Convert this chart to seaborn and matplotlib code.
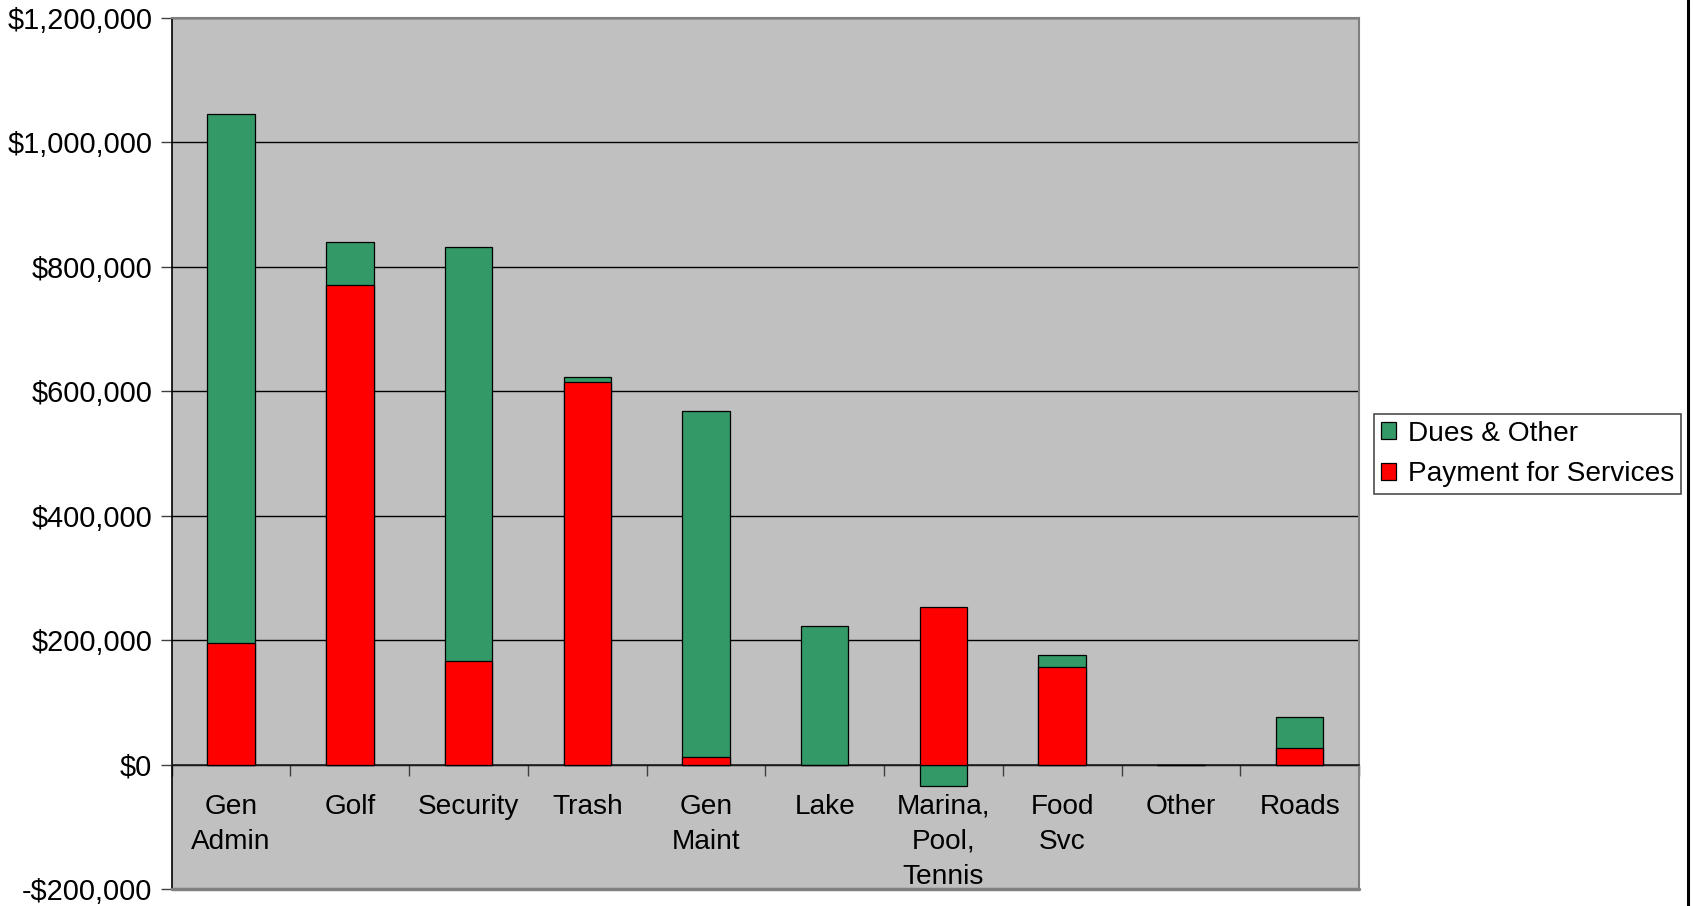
import numpy as np
import pandas as pd
import matplotlib
matplotlib.use("Agg")
import matplotlib.pyplot as plt
import matplotlib.ticker as mticker
from matplotlib.lines import Line2D
from matplotlib.patches import Patch
import seaborn as sns

categories = ["Gen\nAdmin", "Golf", "Security", "Trash", "Gen\nMaint", "Lake",
              "Marina,\nPool,\nTennis", "Food\nSvc", "Other", "Roads"]
dues_other = [850000, 70000, 664000, 7000, 556000, 222000, -35000, 20500, 0, 49000]
payment_services = [196000, 770000, 167000, 615000, 12000, 0, 253000, 156000, 0, 27000]
y_ticks = [-200000, 0, 200000, 400000, 600000, 800000, 1000000, 1200000]
series_names = ["Dues & Other", "Payment for Services"]

GREEN = "#339966"
RED = "#FF0000"
BG = "#C0C0C0"
FS = 20.2

sns.set_style("white")
plt.rcParams["font.family"] = ["Liberation Sans", "DejaVu Sans"]
plt.rcParams["text.color"] = "black"
plt.rcParams["xtick.labelcolor"] = "black"
plt.rcParams["ytick.labelcolor"] = "black"

df = pd.DataFrame({"cat": categories, "dues": dues_other, "pay": payment_services})
# Excel-style stacking: positive dues stack on top of payments, negatives go below zero
df["dues_top"] = np.where(df["dues"] >= 0, df["dues"] + df["pay"], df["dues"])

fig = plt.figure(figsize=(16.93, 9.06), dpi=100)
ax = fig.add_axes([171.7 / 1693, 1 - 889 / 906, (1359 - 171.7) / 1693, (889 - 17.7) / 906])
ax.set_facecolor(BG)

sns.barplot(data=df, x="cat", y="dues_top", order=categories, color=GREEN,
            edgecolor="black", linewidth=0.9, width=0.40, saturation=1, ax=ax, zorder=3)
sns.barplot(data=df, x="cat", y="pay", order=categories, color=RED,
            edgecolor="black", linewidth=0.9, width=0.40, saturation=1, ax=ax, zorder=4)

ax.set_xlim(-0.5, len(categories) - 0.5)
ax.set_ylim(y_ticks[0], y_ticks[-1])
ax.set_xlabel("")
ax.set_ylabel("")

# spines first (moving a spine resets the ticks)
ax.spines["bottom"].set_position(("data", 0))
ax.spines["bottom"].set_color("#202020")
ax.spines["bottom"].set_linewidth(1.2)
ax.spines["left"].set_color("black")
ax.spines["left"].set_linewidth(1.2)
for s in ["top", "right"]:
    ax.spines[s].set_visible(True)
    ax.spines[s].set_color("#808080")
    ax.spines[s].set_linewidth(1.5)
ax.axhline(y_ticks[0], color="#808080", linewidth=2.5, zorder=5, clip_on=False)

ax.yaxis.set_major_locator(mticker.FixedLocator(y_ticks))
ax.yaxis.set_major_formatter(mticker.FuncFormatter(
    lambda v, p: ("-$" if v < 0 else "$") + f"{abs(int(v)):,}"))
ax.grid(axis="y", color="black", linewidth=1.0)
ax.set_axisbelow(True)

ax.tick_params(axis="y", direction="out", length=8, width=1, color="#404040",
               labelsize=FS + 0.6, pad=6, labelcolor="black", left=True)
ax.set_xticks(range(len(categories)))
ax.set_xticklabels(categories, fontsize=FS, color="black")
ax.set_xticks(np.arange(-0.5, len(categories)), minor=True)
ax.tick_params(axis="x", which="major", length=0, pad=21, labelsize=FS, bottom=True)
ax.tick_params(axis="x", which="minor", direction="out", length=8, width=1,
               color="#404040", bottom=True)
for lbl in ax.get_xticklabels():
    lbl.set_linespacing(1.45)

handles = [Patch(facecolor=GREEN, edgecolor="black", linewidth=0.9, label=series_names[0]),
           Patch(facecolor=RED, edgecolor="black", linewidth=0.9, label=series_names[1])]
leg = fig.legend(handles=handles, loc="center left",
                 bbox_to_anchor=(1374 / 1693, 1 - 454 / 906),
                 fontsize=FS, frameon=True, fancybox=False, shadow=False,
                 borderaxespad=0, borderpad=0.25, labelspacing=0.53,
                 handlelength=0.55, handleheight=0.55, handletextpad=0.4)
leg.get_frame().set_edgecolor("#202020")
leg.get_frame().set_linewidth(1.2)
for t in leg.get_texts():
    t.set_color("black")

fig.add_artist(Line2D([1687.5 / 1693] * 2, [0, 1], color="black", linewidth=2.2))

fig.savefig("out.png", dpi=100, facecolor="white")
